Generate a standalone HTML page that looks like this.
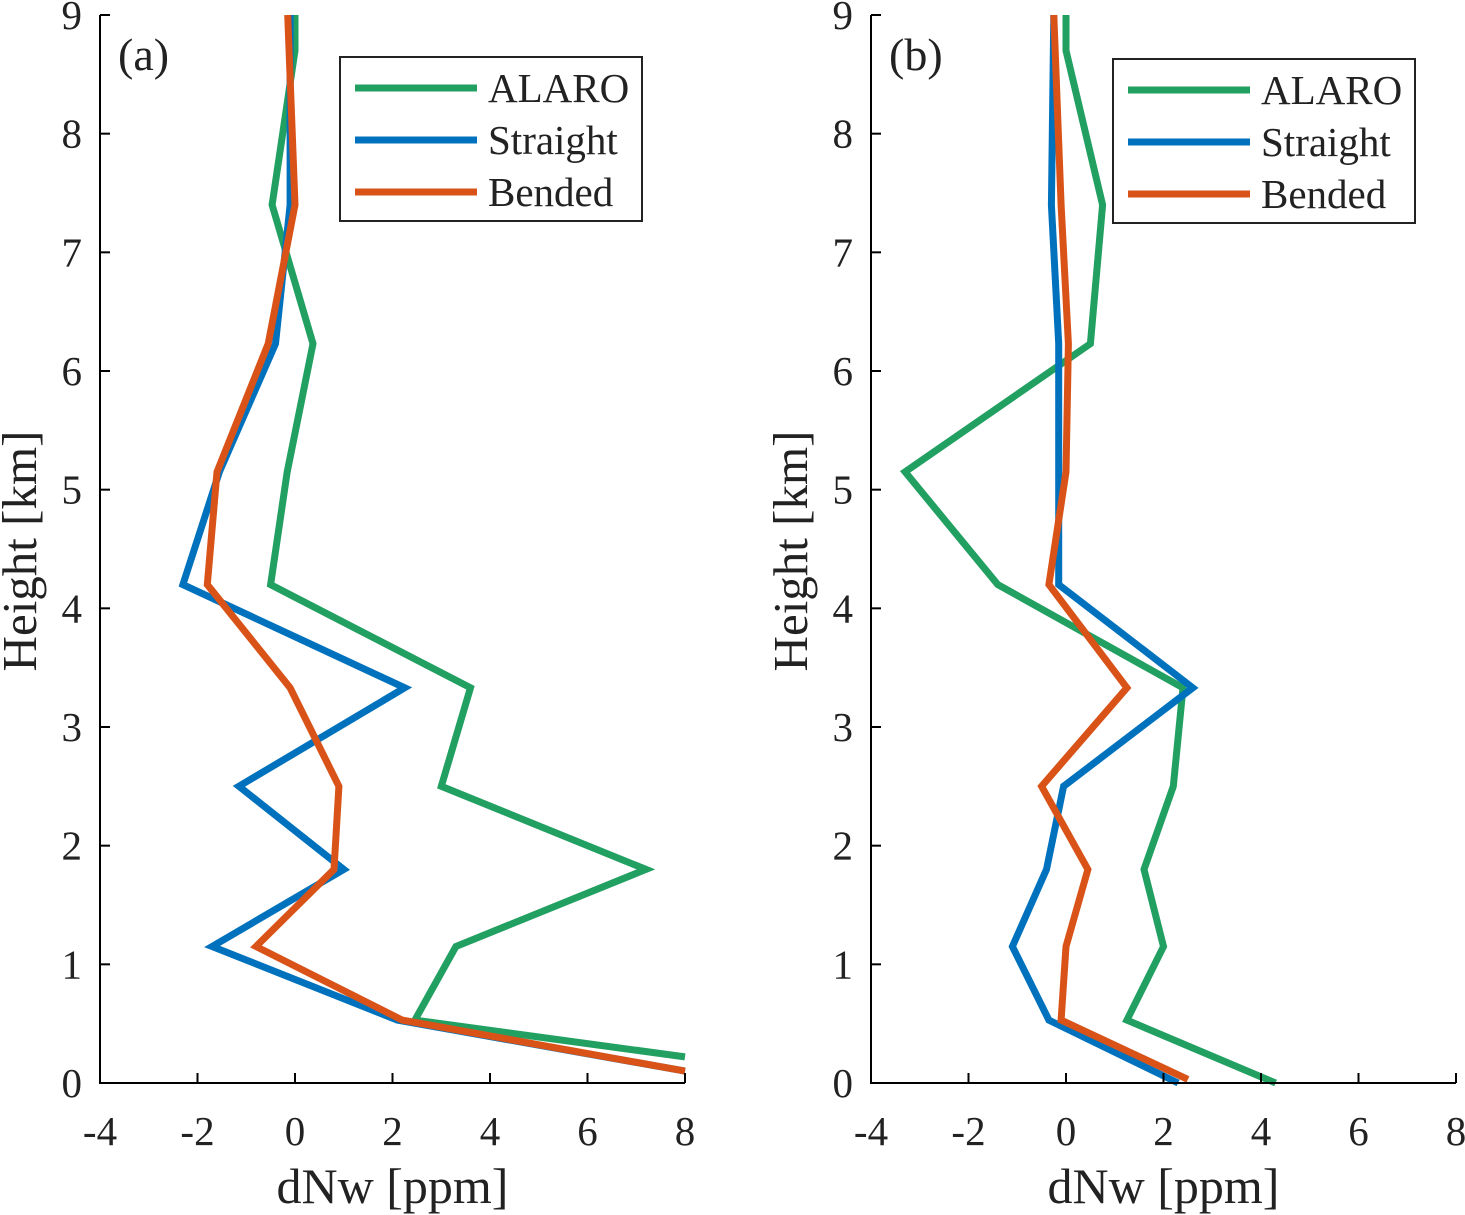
<!DOCTYPE html>
<html><head><meta charset="utf-8">
<style>
html,body{margin:0;padding:0;background:#fff;}
svg{display:block;font-family:"Liberation Serif",serif;}
</style></head>
<body>
<svg id="chart" width="1465" height="1215" viewBox="0 0 1465 1215" xmlns="http://www.w3.org/2000/svg"></svg>
<script>
// ---- data ----
const xTicks = [-4,-2,0,2,4,6,8];
const yTicks = [0,1,2,3,4,5,6,7,8,9];
const seriesNames = ["ALARO","Straight","Bended"];
const panelLabels = ["(a)","(b)"];
const hGreen = [0.22,0.53,1.15,1.8,2.5,3.33,4.2,5.15,6.23,7.4,8.7,9];
const hBlue  = [0.1,0.53,1.15,1.8,2.5,3.33,4.2,5.15,6.23,7.4,9];
const hOrange= [0.1,0.53,1.15,1.8,2.5,3.33,4.2,5.15,6.23,7.4,9];
const aGreen = [8.0,2.46,3.3,7.2,3.0,3.6,-0.5,-0.16,0.37,-0.47,0.0,0.0];
const aBlue  = [8.0,2.1,-1.7,1.0,-1.15,2.25,-2.3,-1.55,-0.4,-0.1,-0.1];
const aOrange= [8.0,2.2,-0.8,0.8,0.9,-0.1,-1.8,-1.6,-0.55,0.0,-0.15];
const hGreenB = [0,0.53,1.15,1.8,2.5,3.33,4.2,5.15,6.23,7.4,8.7,9];
const hBlueB  = [0,0.53,1.15,1.8,2.5,3.33,4.2,5.15,6.23,7.4,9];
const hOrangeB= [0.03,0.53,1.15,1.8,2.5,3.33,4.2,5.15,6.23,7.4,9];
const bGreen = [4.3,1.25,2.0,1.6,2.2,2.4,-1.4,-3.3,0.5,0.75,0.0,0.0];
const bBlue  = [2.3,-0.35,-1.1,-0.4,-0.05,2.6,-0.15,-0.15,-0.15,-0.3,-0.25];
const bOrange= [2.5,-0.1,0.0,0.45,-0.5,1.25,-0.35,0.0,0.05,-0.1,-0.25];

const colors = ["#22a062","#0072BD","#D95319"];
const NS="http://www.w3.org/2000/svg";
const svg=document.getElementById('chart');
function mk(tag,attrs,parent){const e=document.createElementNS(NS,tag);for(const k in attrs)e.setAttribute(k,attrs[k]);(parent||svg).appendChild(e);return e;}

const panels=[
 {x0:100,x1:685,label:panelLabels[0],lx:340,ly:57,
  series:[[aGreen,hGreen],[aBlue,hBlue],[aOrange,hOrange]],name:'panel-a'},
 {x0:871,x1:1456,label:panelLabels[1],lx:1113,ly:59,
  series:[[bGreen,hGreenB],[bBlue,hBlueB],[bOrange,hOrangeB]],name:'panel-b'}
];
const yTop=15,yBot=1083;
panels.forEach((p,pi)=>{
  const g=mk('g',{});
  
  
  const xs=v=>p.x0+(v+4)/12*(p.x1-p.x0);
  const ys=v=>yBot-v/9*(yBot-yTop);
  [0,1,2].forEach(si=>{
    const [xv,hv]=p.series[si];
    const pts=xv.map((v,i)=>xs(v).toFixed(1)+','+ys(hv[i]).toFixed(1)).join(' ');
    const pl=mk('polyline',{points:pts,fill:'none',stroke:colors[si],'stroke-width':7,'stroke-linejoin':'miter','stroke-miterlimit':4},g);
    
    
  });
  const ax=mk('path',{d:`M${p.x0},${yTop} L${p.x0},${yBot} L${p.x1},${yBot}`,fill:'none',stroke:'#000','stroke-width':2},g);
  
  
  xTicks.forEach(t=>{
    const x=xs(t);
    mk('line',{x1:x,y1:yBot,x2:x,y2:yBot-10,stroke:'#000','stroke-width':2},g);
    const tx=mk('text',{x:x,y:1145,'font-size':41,'text-anchor':'middle',fill:'#222'},g);
    tx.textContent=t;
    
    
  });
  yTicks.forEach(t=>{
    const y=ys(t);
    mk('line',{x1:p.x0,y1:y,x2:p.x0+10,y2:y,stroke:'#000','stroke-width':2},g);
    const tx=mk('text',{x:p.x0-18,y:y+14,'font-size':41,'text-anchor':'end',fill:'#222'},g);
    tx.textContent=t;
    
    
  });
  const xt=mk('text',{x:(p.x0+p.x1)/2,y:1203,'font-size':50,'text-anchor':'middle',fill:'#222'},g);
  xt.textContent='dNw [ppm]';
  
  
  const cy=551, cx=p.x0-64;
  const yt=mk('text',{x:cx,y:cy,'font-size':49,'text-anchor':'middle',fill:'#222',transform:`rotate(-90 ${cx} ${cy})`},g);
  yt.textContent='Height [km]';
  
  
  const pl=mk('text',{x:p.x0+18,y:70,'font-size':46,fill:'#222'},g);
  pl.textContent=p.label;
  
  
  const lg=mk('g',{},g);
  
  
  mk('rect',{x:p.lx,y:p.ly,width:302,height:164,fill:'#fff',stroke:'#222','stroke-width':2},lg);
  seriesNames.forEach((n,i)=>{
    const y=p.ly+31+i*52;
    const e=mk('g',{},lg);
    
    
    mk('line',{x1:p.lx+15,y1:y,x2:p.lx+137,y2:y,stroke:colors[i],'stroke-width':7},e);
    const t=mk('text',{x:p.lx+148,y:y+14,'font-size':41,fill:'#222'},e);
    t.textContent=n;
  });
});
</script>
</body></html>
